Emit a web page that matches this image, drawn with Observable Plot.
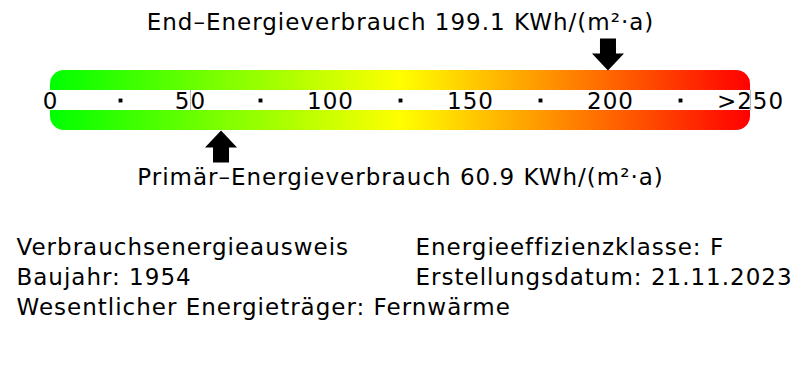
<!DOCTYPE html>
<html>
<head>
<meta charset="utf-8">
<script src="https://cdn.jsdelivr.net/npm/d3@7"></script>
<script src="https://cdn.jsdelivr.net/npm/@observablehq/plot@0.6"></script>
<style>
  html, body { margin: 0; padding: 0; background: #fff; }
  #chart { width: 800px; height: 380px; }
</style>
</head>
<body>
<div id="chart"></div>
<script>
// ---- data ----
const endEnergy = 199.1;
const primaryEnergy = 60.9;
const unit = "KWh/(m²·a)";
const scaleDomain = [0, 250];
const tickValues = [0, 50, 100, 150, 200, 250];
const tickLabels = ["0", "50", "100", "150", "200", ">250"];
const minorTicks = [25, 75, 125, 175, 225];
const markerLines = [50, 250];
const gradientColors = ["#00ff00", "#ffff00", "#ff0000"];
const leftInfo = ["Verbrauchsenergieausweis", "Baujahr: 1954", "Wesentlicher Energieträger: Fernwärme"];
const rightInfo = ["Energieeffizienzklasse: F", "Erstellungsdatum: 21.11.2023"];

const endLabel = `End–Energieverbrauch ${endEnergy} ${unit}`;
const primaryLabel = `Primär–Energieverbrauch ${primaryEnergy} ${unit}`;

// block arrow symbols (tip at the symbol origin)
function blockArrow(dir) {
  return {
    draw(ctx, size) {
      const r = Math.sqrt(size / Math.PI);
      const k = r / 16;
      const pts = [[0, 0], [16, -17], [8, -17], [8, -32], [-8, -32], [-8, -17], [-16, -17]];
      pts.forEach(([px, py], i) => {
        const X = px * k, Y = py * k * dir;
        if (i === 0) ctx.moveTo(X, Y); else ctx.lineTo(X, Y);
      });
      ctx.closePath();
    }
  };
}
const downArrow = blockArrow(1);
const upArrow = blockArrow(-1);

const ticks = tickValues.map((v, i) => ({value: v, label: tickLabels[i]}));
const font = 23;

const svg = Plot.plot({
  width: 800,
  height: 380,
  marginLeft: 50,
  marginRight: 50,
  marginTop: 70,
  marginBottom: 250,
  style: {fontFamily: "'DejaVu Sans', sans-serif", background: "white", color: "black", overflow: "visible", letterSpacing: "1px"},
  x: {domain: scaleDomain, axis: null},
  y: {domain: [0, 3], axis: null},
  marks: [
    Plot.rect([scaleDomain], {x1: d => d[0], x2: d => d[1], y1: 0, y2: 3, rx: 14, fill: "url(#energyGradient)"}),
    Plot.rect([scaleDomain], {x1: d => d[0], x2: d => d[1], y1: 1, y2: 2, fill: "white"}),
    Plot.ruleX(markerLines, {y1: 1, y2: 2, stroke: "#bbb", strokeWidth: 1}),
    Plot.dot(minorTicks, {x: d => d, y: 1.5, symbol: "square", r: 2.2, fill: "black", stroke: "none"}),
    Plot.text(ticks, {x: "value", y: 1.5, text: "label", fontSize: font, dy: 1, fill: "black"}),
    Plot.dot([endEnergy], {x: d => d, y: 3, symbol: downArrow, r: 16, fill: "black", stroke: "none"}),
    Plot.dot([primaryEnergy], {x: d => d, y: 0, symbol: upArrow, r: 16, fill: "black", stroke: "none"}),
    Plot.text([endLabel], {text: d => d, frameAnchor: "top", lineAnchor: "bottom", dy: -41, fontSize: font, fill: "black"}),
    Plot.text([primaryLabel], {text: d => d, frameAnchor: "bottom", lineAnchor: "bottom", dy: 54, fontSize: font, fill: "black"}),
    Plot.text([leftInfo.join("\n")], {text: d => d, frameAnchor: "bottom-left", textAnchor: "start", lineAnchor: "top", lineHeight: 30 / font, dx: -34, dy: 103, fontSize: font, fill: "black"}),
    Plot.text([rightInfo.join("\n")], {text: d => d, frameAnchor: "bottom", textAnchor: "start", lineAnchor: "top", lineHeight: 30 / font, dx: 15, dy: 103, fontSize: font, fill: "black"})
  ]
});

const defs = d3.select(svg).insert("defs", ":first-child");
const grad = defs.append("linearGradient")
  .attr("id", "energyGradient")
  .attr("x1", "0%").attr("x2", "100%").attr("y1", "0%").attr("y2", "0%");
gradientColors.forEach((c, i) => {
  grad.append("stop").attr("offset", `${(i / (gradientColors.length - 1)) * 100}%`).attr("stop-color", c);
});

document.getElementById("chart").appendChild(svg);
</script>
</body>
</html>
